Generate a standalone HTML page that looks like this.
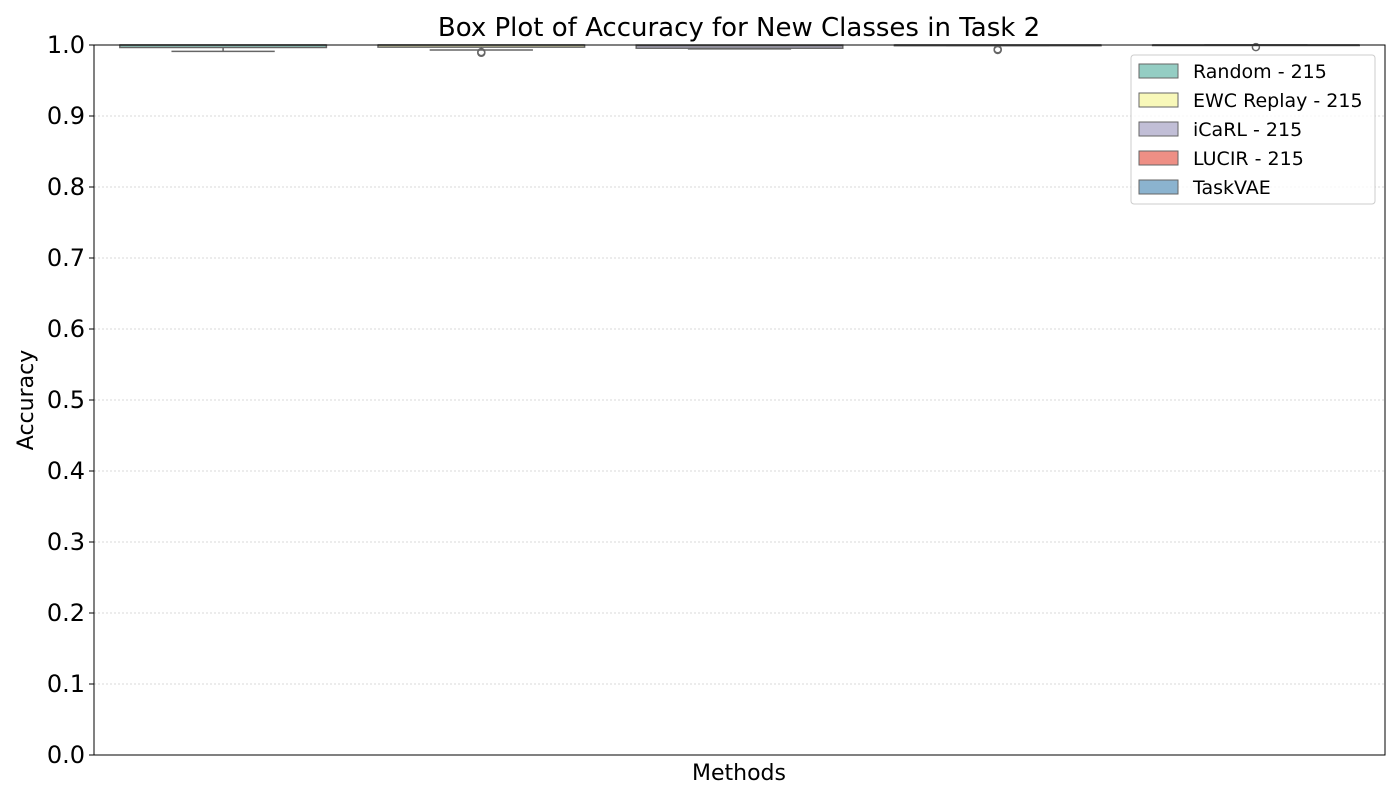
<!DOCTYPE html>
<html><head><meta charset="utf-8"><style>
body{margin:0;background:#fff;font-family:"Liberation Sans","DejaVu Sans",sans-serif}
text{font-family:"DejaVu Sans","Liberation Sans",sans-serif}
</style></head><body>
<svg id="chart" width="1400" height="800" xmlns="http://www.w3.org/2000/svg">
<g id="grid"></g>
<g id="boxes"></g>
<rect x="94" y="45" width="1291" height="710" fill="none" stroke="#000" stroke-width="1"/>
<g id="yticks"></g>
<text x="739" y="36" font-size="26" text-anchor="middle">Box Plot of Accuracy for New Classes in Task 2</text>
<text x="739" y="780" font-size="22" text-anchor="middle">Methods</text>
<text x="0" y="0" font-size="22" text-anchor="middle" transform="translate(33,400) rotate(-90)">Accuracy</text>
<g id="legend"></g>
</svg>
<script>
const methods=["Random - 215","EWC Replay - 215","iCaRL - 215","LUCIR - 215","TaskVAE"];
const colors=["#94cdc3","#f8f8b9","#c1bed6","#ee8f85","#8bb3cf"];
const q1=[0.9965,0.997,0.9955,0.999,1.0];
const med=[1.0,1.0,0.999,1.0,1.0];
const q3=[1.0,1.0,1.0,1.0,1.0];
const wlo=[0.991,0.993,0.9945,0.999,1.0];
const whi=[1.0,1.0,1.0,1.0,1.0];
const outliers=[[],[0.989,0.990],[],[0.993,0.994],[0.997]];
const yTicks=[0,0.1,0.2,0.3,0.4,0.5,0.6,0.7,0.8,0.9,1.0];
const X0=94,X1=1385,Y0=755,Y1=45;
const ys=v=>Y0-(v-0)*(Y0-Y1)/1.0;
const band=(X1-X0)/methods.length;
const xc=i=>X0+band*(i+0.5);
const NS="http://www.w3.org/2000/svg";
function mk(tag,attrs,parent){const e=document.createElementNS(NS,tag);for(const k in attrs)e.setAttribute(k,attrs[k]);parent.appendChild(e);return e;}
const grid=document.getElementById('grid'),yt=document.getElementById('yticks');
yTicks.forEach(t=>{
  const l=mk('line',{x1:X0,x2:X1,y1:ys(t),y2:ys(t),stroke:'#ccc','stroke-width':0.8,'stroke-dasharray':'2,2'},grid);
  
  
  const tk=mk('line',{x1:X0-5,x2:X0,y1:ys(t),y2:ys(t),stroke:'#000'},yt);
  
  
  const tx=mk('text',{x:X0-9,y:ys(t)+8,'font-size':24,'text-anchor':'end'},yt);
  tx.textContent=t.toFixed(1);
  
  
});
const bg=document.getElementById('boxes');
methods.forEach((m,i)=>{
  const c=xc(i),w=band*0.8,g=mk('g',{},bg);
  
  
  const s='#666';
  mk('line',{x1:c,x2:c,y1:ys(q1[i]),y2:ys(wlo[i]),stroke:s,'stroke-width':1.5},g);
  mk('line',{x1:c-w/4,x2:c+w/4,y1:ys(wlo[i]),y2:ys(wlo[i]),stroke:s,'stroke-width':1.5},g);
  mk('rect',{x:c-w/2,y:ys(q3[i]),width:w,height:Math.max(ys(q1[i])-ys(q3[i]),0.5),fill:colors[i],stroke:s,'stroke-width':1.5},g);
  mk('line',{x1:c-w/2,x2:c+w/2,y1:ys(med[i]),y2:ys(med[i]),stroke:s,'stroke-width':1.5},g);
  outliers[i].forEach(o=>{mk('circle',{cx:c,cy:ys(o),r:3.5,fill:'none',stroke:s,'stroke-width':1.5},g);});
});
const lg=document.getElementById('legend');
const fr=mk('rect',{x:1131,y:55,width:244,height:149,rx:3,fill:'#fff','fill-opacity':0.8,stroke:'#ccc'},lg);


methods.forEach((m,i)=>{
  const y=71+i*29;
  const g=mk('g',{},lg);
  
  
  mk('rect',{x:1139,y:y-7,width:39,height:14,fill:colors[i],stroke:'#666'},g);
  const t=mk('text',{x:1193,y:y+7,'font-size':19},g);t.textContent=m;
});
</script>
</body></html>
